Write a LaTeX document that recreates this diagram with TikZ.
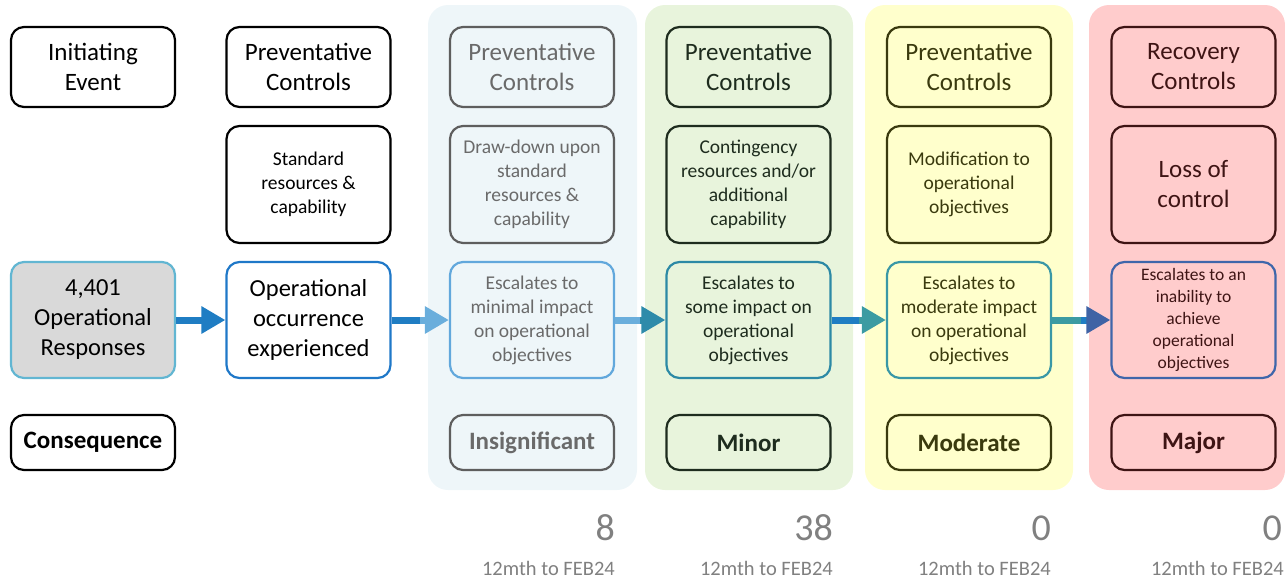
\documentclass[tikz,border=0pt]{standalone}
\usepackage{fontspec}
\setmainfont{Carlito}
\usetikzlibrary{arrows.meta,calc}
\definecolor{bgA}{HTML}{EEF6F9}
\definecolor{bgB}{HTML}{E8F4DC}
\definecolor{bgC}{HTML}{FFFFCC}
\definecolor{bgD}{HTML}{FFCCCC}
\definecolor{grA}{HTML}{5E5E5E}
\definecolor{txA}{HTML}{6A6A6A}
\definecolor{esA}{HTML}{62A8DC}
\definecolor{bdB}{HTML}{1E2C1E}
\definecolor{esB}{HTML}{2C89A5}
\definecolor{bdC}{HTML}{3A3A0E}
\definecolor{esC}{HTML}{3A98A6}
\definecolor{bdD}{HTML}{3E1414}
\definecolor{esD}{HTML}{3F66AA}
\definecolor{respfill}{HTML}{D9D9D9}
\definecolor{respbd}{HTML}{62B6D2}
\definecolor{occbd}{HTML}{1F78C8}
\definecolor{arrblue}{HTML}{1F7DC3}
\definecolor{arrlight}{HTML}{6AAEDC}
\definecolor{arrteal}{HTML}{2E8BAA}
\definecolor{arrteal2}{HTML}{3C9BA2}
\definecolor{arrnavy}{HTML}{3F63A5}
\definecolor{numgray}{HTML}{808080}
\begin{document}
\begin{tikzpicture}[x=1pt,y=-1pt,
  box/.style={draw, rounded corners=13pt, line width=2.2pt, align=center, inner sep=0pt, minimum width=164pt},
  rowa/.style={box, minimum height=80pt, font=\fontsize{25}{30}\selectfont},
  rowb/.style={box, minimum height=117pt, font=\fontsize{19.5}{24}\selectfont},
  rowc/.style={box, minimum height=116pt, font=\fontsize{19.5}{24}\selectfont},
  rowd/.style={box, minimum height=55pt, font=\fontsize{25}{28}\selectfont\bfseries},
  bg/.style={rounded corners=20pt, draw=none},
  arr/.style={line width=7pt},
  num/.style={anchor=base east, text=numgray, font=\fontsize{38}{40}\selectfont, inner sep=0pt},
  per/.style={anchor=base east, text=numgray, font=\fontsize{20.5}{24}\selectfont, inner sep=0pt}
]
\useasboundingbox (0,0) rectangle (1285,582);
% backgrounds
\fill[bg, bgA] (428,5) rectangle (637,490);
\fill[bg, bgB] (645,5) rectangle (853,490);
\fill[bg, bgC] (865,5) rectangle (1073,490);
\fill[bg, bgD] (1089,5) rectangle (1285,490);

% column 1
\node[rowa] (ie) at (93,67) {Initiating\\Event};
\node[rowc, fill=respfill, draw=respbd, font=\fontsize{24.5}{30}\selectfont] (resp) at (93,320) {4,401\\Operational\\Responses};
\node[rowd] (cons) at (93,442.5) {Consequence};

% column 2
\node[rowa] (pc1) at (308.5,67) {Preventative\\Controls};
\node[rowb] (std) at (308.5,184.5) {Standard\\resources \&\\capability};
\node[rowc, draw=occbd, font=\fontsize{24.5}{30}\selectfont] (occ) at (308.5,320) {Operational\\occurrence\\experienced};

% column 3
\node[rowa, draw=grA, text=txA] (pc2) at (532,67) {Preventative\\Controls};
\node[rowb, draw=grA, text=txA] (draw) at (532,184.5) {Draw-down upon\\standard\\resources \&\\capability};
\node[rowc, draw=esA, text=txA] (esc1) at (532,320) {Escalates to\\minimal impact\\on operational\\objectives};
\node[rowd, draw=grA, text=txA] (ins) at (532,442.5) {Insignificant};

% column 4
\node[rowa, draw=bdB, text=bdB] (pc3) at (748.5,67) {Preventative\\Controls};
\node[rowb, draw=bdB, text=bdB] (cont) at (748.5,184.5) {Contingency\\resources and/or\\additional\\capability};
\node[rowc, draw=esB, text=bdB] (esc2) at (748.5,320) {Escalates to\\some impact on\\operational\\objectives};
\node[rowd, draw=bdB, text=bdB] (minor) at (748.5,442.5) {Minor};

% column 5
\node[rowa, draw=bdC, text=bdC] (pc4) at (969,67) {Preventative\\Controls};
\node[rowb, draw=bdC, text=bdC] (mod) at (969,184.5) {Modification to\\operational\\objectives};
\node[rowc, draw=esC, text=bdC] (esc3) at (969,320) {Escalates to\\moderate impact\\on operational\\objectives};
\node[rowd, draw=bdC, text=bdC] (moder) at (969,442.5) {Moderate};

% column 6
\node[rowa, draw=bdD, text=bdD] (rc) at (1193.5,67) {Recovery\\Controls};
\node[rowb, draw=bdD, text=bdD, font=\fontsize{25}{30}\selectfont] (loss) at (1193.5,184.5) {Loss of\\control};
\node[rowc, draw=esD, text=bdD, font=\fontsize{17.5}{22}\selectfont] (esc4) at (1193.5,320) {Escalates to an\\inability to\\achieve\\operational\\objectives};
\node[rowd, draw=bdD, text=bdD] (major) at (1193.5,442.5) {Major};

% arrows
\draw[arr, arrblue, -{Triangle[length=24pt,width=26pt]}] (resp.east) -- (occ.west);
\coordinate (m1) at ($(occ.east)!0.5!(esc1.west)$);
\draw[arr, arrblue] (occ.east) -- (m1);
\draw[arr, arrlight, -{Triangle[length=24pt,width=26pt]}] (m1) -- (esc1.west);
\coordinate (m2) at ($(esc1.east)!0.5!(esc2.west)$);
\draw[arr, arrlight] (esc1.east) -- (m2);
\draw[arr, arrteal, -{Triangle[length=24pt,width=26pt]}] (m2) -- (esc2.west);
\coordinate (m3) at ($(esc2.east)!0.5!(esc3.west)$);
\draw[arr, arrblue] (esc2.east) -- (m3);
\draw[arr, arrteal2, -{Triangle[length=24pt,width=26pt]}] (m3) -- (esc3.west);
\coordinate (m4) at ($(esc3.east)!0.5!(esc4.west)$);
\draw[arr, arrteal2] (esc3.east) -- (m4);
\draw[arr, arrblue, -{Triangle[length=24pt,width=26pt,color=arrnavy]}] (m4) -- (esc4.west);

% numbers
\node[num] (n1) at (615,540) {8};
\node[per] (p1) at (615,575) {12mth to FEB24};
\node[num] (n2) at (833,540) {38};
\node[per] (p2) at (833,575) {12mth to FEB24};
\node[num] (n3) at (1051,540) {0};
\node[per] (p3) at (1051,575) {12mth to FEB24};
\node[num] (n4) at (1282,540) {0};
\node[per] (p4) at (1284,575) {12mth to FEB24};
\end{tikzpicture}
\end{document}
